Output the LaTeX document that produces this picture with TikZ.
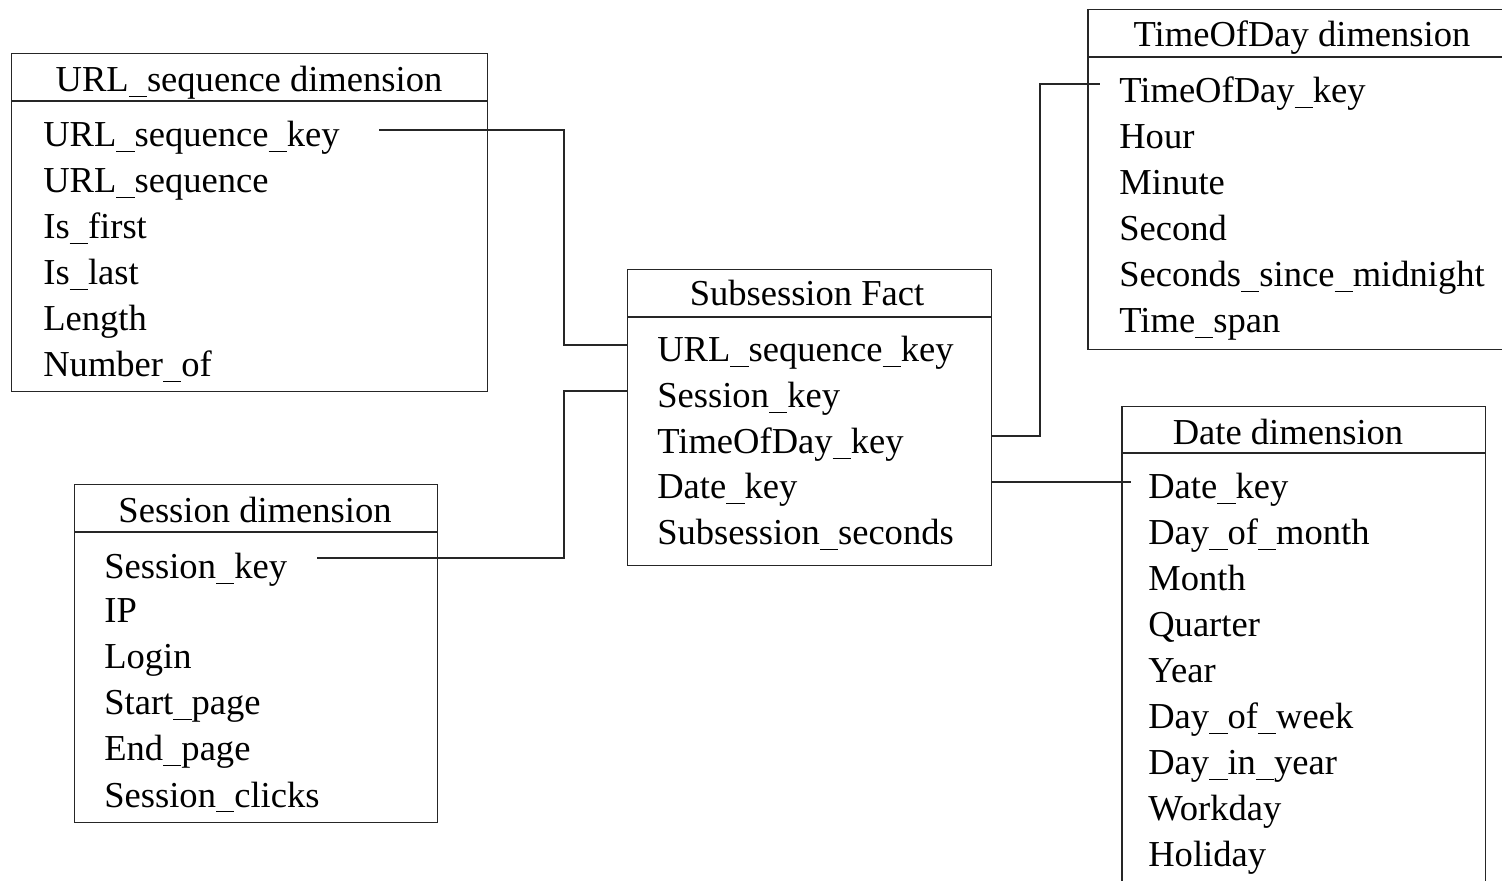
\documentclass[tikz,border=0pt]{standalone}
\usepackage{fontspec}
\setmainfont{Liberation Serif}
\newcommand\us{\rule[-0.15em]{0.5em}{0.05em}}
\begin{document}
\begin{tikzpicture}[x=0.02cm,y=-0.02cm,
  tbl/.style={draw=black!85, line width=0.85pt, rectangle, inner sep=0pt, anchor=north west},
  sep/.style={draw=black!85, line width=0.85pt},
  fld/.style={anchor=base west, inner sep=0pt, font=\fontsize{20.8}{24}\selectfont},
  hdr/.style={anchor=base, inner sep=0pt, font=\fontsize{20.8}{24}\selectfont},
  link/.style={draw=black!85, line width=0.85pt}]
\useasboundingbox (0,0) rectangle (1502,881);
\clip (0,0) rectangle (1502,881);
\fill[white] (0,0) rectangle (1502,881);

% URL_sequence dimension
\node[tbl, minimum width=9.52cm, minimum height=6.76cm] (url) at (11,53) {};
\draw[sep] (url.west |- 0,101) -- (url.east |- 0,101);
\node[hdr] (urlh) at (249,92) {URL\us sequence dimension};
\node[fld] (u1) at (43,147) {URL\us sequence\us key};
\node[fld] (u2) at (43,193) {URL\us sequence};
\node[fld] (u3) at (43,239) {Is\us first};
\node[fld] (u4) at (43,285) {Is\us last};
\node[fld] (u5) at (43,331) {Length};
\node[fld] (u6) at (43,377) {Number\us of};

% TimeOfDay dimension
\node[tbl, minimum width=8.6cm, minimum height=6.8cm] (tod) at (1087,9) {};
\draw[sep] (tod.west |- 0,57) -- (tod.east |- 0,57);
\node[hdr] (todh) at (1302,47) {TimeOfDay dimension};
\node[fld] (t1) at (1119,103) {TimeOfDay\us key};
\node[fld] (t2) at (1119,149) {Hour};
\node[fld] (t3) at (1119,195) {Minute};
\node[fld] (t4) at (1119,241) {Second};
\node[fld] (t5) at (1119,287) {Seconds\us since\us midnight};
\node[fld] (t6) at (1119,333) {Time\us span};

% Subsession Fact
\node[tbl, minimum width=7.28cm, minimum height=5.92cm] (fact) at (627,269) {};
\draw[sep] (fact.west |- 0,317) -- (fact.east |- 0,317);
\node[hdr] (facth) at (807,306) {Subsession Fact};
\node[fld] (f1) at (657,362) {URL\us sequence\us key};
\node[fld] (f2) at (657,408) {Session\us key};
\node[fld] (f3) at (657,454) {TimeOfDay\us key};
\node[fld] (f4) at (657,499) {Date\us key};
\node[fld] (f5) at (657,545) {Subsession\us seconds};

% Session dimension
\node[tbl, minimum width=7.26cm, minimum height=6.76cm] (ses) at (74,484) {};
\draw[sep] (ses.west |- 0,532) -- (ses.east |- 0,532);
\node[hdr] (sesh) at (255,523) {Session dimension};
\node[fld] (s1) at (104,579) {Session\us key};
\node[fld] (s2) at (104,623) {IP};
\node[fld] (s3) at (104,669) {Login};
\node[fld] (s4) at (104,715) {Start\us page};
\node[fld] (s5) at (104,761) {End\us page};
\node[fld] (s6) at (104,807) {Session\us clicks};

% Date dimension
\node[tbl, minimum width=7.28cm, minimum height=9.88cm] (date) at (1121,406) {};
\draw[sep] (date.west |- 0,453) -- (date.east |- 0,453);
\node[hdr] (dateh) at (1288,445) {Date dimension};
\node[fld] (d1) at (1148,499) {Date\us key};
\node[fld] (d2) at (1148,545) {Day\us of\us month};
\node[fld] (d3) at (1148,591) {Month};
\node[fld] (d4) at (1148,637) {Quarter};
\node[fld] (d5) at (1148,683) {Year};
\node[fld] (d6) at (1148,729) {Day\us of\us week};
\node[fld] (d7) at (1148,775) {Day\us in\us year};
\node[fld] (d8) at (1148,821) {Workday};
\node[fld] (d9) at (1148,867) {Holiday};

% connectors
\coordinate (cu) at (379,130);
\coordinate (cs) at (317,558);
\coordinate (ct) at (1100,84);
\coordinate (cd) at (1131,482);
\draw[link] (cu) -- (564,130) |- (fact.west |- 0,345);
\draw[link] (cs) -- (564,558) |- (fact.west |- 0,391);
\draw[link] (fact.east |- 0,436) -- (1040,436) |- (ct);
\draw[link] (fact.east |- 0,482) -- (cd);
\end{tikzpicture}
\end{document}
